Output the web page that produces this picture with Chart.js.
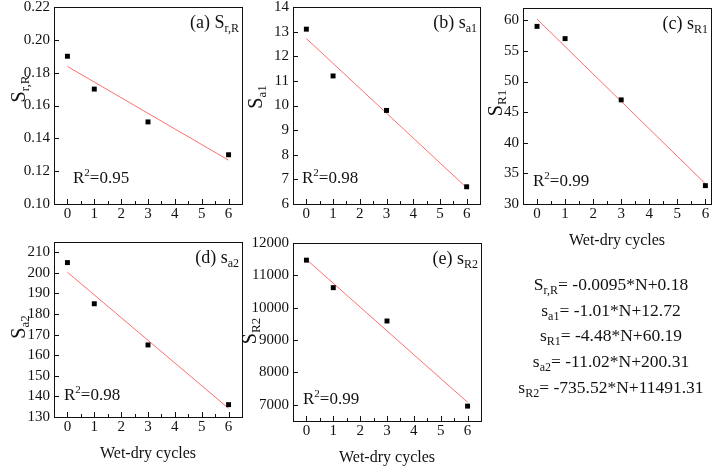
<!DOCTYPE html>
<html>
<head>
<meta charset="utf-8">
<script src="https://cdn.jsdelivr.net/npm/chart.js@4.4.0/dist/chart.umd.min.js"></script>
<style>
  html, body { margin: 0; padding: 0; background: #fff; overflow: hidden; }
  #wrap { position: relative; width: 714px; height: 467px; overflow: hidden; }
  canvas { position: absolute; left: -30px; top: -30px; }
  #eqs { position: absolute; left: 491px; top: 272px; width: 240px; text-align: center;
         font-family: "Liberation Serif", serif; font-size: 17.5px; line-height: 25.7px; color: #111; }
  #eqs sub { font-size: 12px; vertical-align: -4px; line-height: 0; }
</style>
</head>
<body>
<div id="wrap">
  <canvas id="cA" width="774" height="527"></canvas>
  <canvas id="cB" width="774" height="527"></canvas>
  <canvas id="cC" width="774" height="527"></canvas>
  <canvas id="cD" width="774" height="527"></canvas>
  <canvas id="cE" width="774" height="527"></canvas>
  <div id="eqs">
    <div>S<sub>r,R</sub>= -0.0095*N+0.18</div>
    <div>s<sub>a1</sub>= -1.01*N+12.72</div>
    <div>s<sub>R1</sub>= -4.48*N+60.19</div>
    <div>s<sub>a2</sub>= -11.02*N+200.31</div>
    <div>s<sub>R2</sub>= -735.52*N+11491.31</div>
  </div>
</div>
<script>
// wet-dry cycles and measured values
const cycles = [0, 1, 3, 6];
const fitX = [0, 6];

const srR = [0.19, 0.17, 0.15, 0.13];
const srRFit = [0.1838, 0.1267];
const sa1 = [13.1, 11.2, 9.8, 6.7];
const sa1Fit = [12.72, 6.66];
const sR1 = [59, 57, 47, 33];
const sR1Fit = [60.19, 33.31];
const sa2 = [205, 185, 165, 136];
const sa2Fit = [200.31, 134.19];
const sR2 = [11470, 10620, 9590, 6960];
const sR2Fit = [11491.31, 7078.19];

const xTicks = [0, 0.5, 1, 1.5, 2, 2.5, 3, 3.5, 4, 4.5, 5, 5.5, 6];
const yTicksA = [0.10, 0.12, 0.14, 0.16, 0.18, 0.20, 0.22];
const yTicksB = [6, 7, 8, 9, 10, 11, 12, 13, 14];
const yTicksC = [30, 35, 40, 45, 50, 55, 60];
const yTicksD = [130, 140, 150, 160, 170, 180, 190, 200, 210];
const yTicksE = [7000, 8000, 9000, 10000, 11000, 12000];

const r2 = ['0.95', '0.98', '0.99', '0.98', '0.99'];

const OFF = 30;
const YW = 50, XH = 24;
const SERIF = '"Liberation Serif", "Times New Roman", serif';
const INK = '#111';

function drawParts(ctx, x, y, parts, align) {
    let total = 0;
    parts.forEach(p => {
        ctx.font = p.size + 'px ' + SERIF;
        p.w = ctx.measureText(p.t).width;
        total += p.w;
    });
    let cx = align === 'right' ? x - total : align === 'center' ? x - total / 2 : x;
    ctx.textBaseline = 'alphabetic';
    ctx.textAlign = 'left';
    parts.forEach(p => {
        ctx.font = p.size + 'px ' + SERIF;
        ctx.fillText(p.t, cx, y + (p.dy || 0));
        cx += p.w;
    });
}

const panelPlugin = {
    id: 'panel',
    afterDraw(chart, args, o) {
        const ctx = chart.ctx;
        const a = chart.chartArea;
        const xs = chart.scales.x, ys = chart.scales.y;
        ctx.save();
        ctx.strokeStyle = INK;
        ctx.lineWidth = 1;
        ctx.strokeRect(Math.round(a.left) + 0.5, Math.round(a.top) + 0.5,
            Math.round(a.right - a.left), Math.round(a.bottom - a.top));
        ctx.beginPath();
        xs.ticks.forEach(t => {
            const px = Math.round(xs.getPixelForValue(t.value)) + 0.5;
            const len = Number.isInteger(t.value) ? 5 : 3;
            ctx.moveTo(px, a.bottom);
            ctx.lineTo(px, a.bottom - len);
        });
        ys.ticks.forEach(t => {
            const py = Math.round(ys.getPixelForValue(t.value)) + 0.5;
            ctx.moveTo(a.left, py);
            ctx.lineTo(a.left + 5, py);
        });
        ctx.stroke();

        ctx.fillStyle = INK;
        // panel label, top right
        drawParts(ctx, a.right - 3, a.top + 21, [
            { t: o.tag + ' ' + o.sym, size: 18 },
            { t: o.sub, size: 12, dy: 4 }
        ], 'right');
        // R squared
        drawParts(ctx, a.left + o.r2dx, a.bottom - o.r2dy, [
            { t: 'R', size: 17 },
            { t: '2', size: 11, dy: -7 },
            { t: '=' + o.r2, size: 17 }
        ], 'left');
        // y title, rotated
        ctx.save();
        ctx.translate(o.ytx + OFF, o.yty + OFF);
        ctx.rotate(-Math.PI / 2);
        drawParts(ctx, 0, 0, [
            { t: 'S', size: 20 },
            { t: o.sub, size: 13, dy: 4 }
        ], 'center');
        ctx.restore();
        // x title
        if (o.xTitle) {
            ctx.font = '16px ' + SERIF;
            ctx.textAlign = 'center';
            ctx.textBaseline = 'middle';
            ctx.fillText('Wet-dry cycles', (a.left + a.right) / 2, a.bottom + 37);
        }
        ctx.restore();
    }
};

function makePanel(id, p) {
    const tickFont = { family: SERIF, size: 15 };
    new Chart(document.getElementById(id), {
        type: 'scatter',
        data: {
            datasets: [{
                data: cycles.map((c, i) => ({ x: c, y: p.values[i] })),
                pointStyle: 'rect',
                pointRadius: 3.5,
                backgroundColor: '#000',
                borderWidth: 0
            }, {
                data: fitX.map((c, i) => ({ x: c, y: p.fit[i] })),
                showLine: true,
                pointRadius: 0,
                borderColor: 'rgb(255, 110, 110)',
                borderWidth: 1
            }]
        },
        options: {
            responsive: false,
            animation: false,
            devicePixelRatio: 1,
            layout: {
                padding: {
                    left: p.box[0] + OFF - YW,
                    top: p.box[1] + OFF,
                    right: 744 - p.box[2],
                    bottom: 497 - p.box[3] - XH
                }
            },
            scales: {
                x: {
                    type: 'linear',
                    min: -0.5,
                    max: p.xmax,
                    afterFit: s => { s.height = XH; },
                    afterBuildTicks: s => { s.ticks = xTicks.map(v => ({ value: v })); },
                    grid: { display: false, drawTicks: false },
                    border: { display: false },
                    ticks: {
                        autoSkip: false, maxRotation: 0, padding: 1,
                        font: tickFont, color: INK,
                        callback: v => Number.isInteger(v) ? String(v) : ''
                    }
                },
                y: {
                    min: p.ymin,
                    max: p.ymax,
                    afterFit: s => { s.width = YW; },
                    afterBuildTicks: s => { s.ticks = p.yTicks.map(v => ({ value: v })); },
                    grid: { display: false, drawTicks: false },
                    border: { display: false },
                    ticks: {
                        autoSkip: false, padding: 4,
                        font: tickFont, color: INK,
                        callback: v => p.fmt ? p.fmt(v) : String(v)
                    }
                }
            },
            plugins: {
                legend: { display: false },
                tooltip: { enabled: false },
                panel: p.text
            }
        },
        plugins: [panelPlugin]
    });
}

makePanel('cA', {
    values: srR, fit: srRFit, yTicks: yTicksA, ymin: 0.10, ymax: 0.22, xmax: 6.5,
    fmt: v => v.toFixed(2), box: [54, 7, 242, 204],
    text: { tag: '(a)', sym: 'S', sub: 'r,R', r2: r2[0], r2dx: 19, r2dy: 21, ytx: 25, yty: 89 }
});
makePanel('cB', {
    values: sa1, fit: sa1Fit, yTicks: yTicksB, ymin: 6, ymax: 14, xmax: 6.5,
    box: [293, 7, 480, 204],
    text: { tag: '(b)', sym: 's', sub: 'a1', r2: r2[1], r2dx: 9, r2dy: 21, ytx: 262, yty: 97 }
});
makePanel('cC', {
    values: sR1, fit: sR1Fit, yTicks: yTicksC, ymin: 30, ymax: 62, xmax: 6.2,
    box: [523, 8, 711, 204],
    text: { tag: '(c)', sym: 's', sub: 'R1', r2: r2[2], r2dx: 10, r2dy: 18, ytx: 502, yty: 103, xTitle: true }
});
makePanel('cD', {
    values: sa2, fit: sa2Fit, yTicks: yTicksD, ymin: 130, ymax: 215, xmax: 6.5,
    box: [54, 242, 242, 417],
    text: { tag: '(d)', sym: 's', sub: 'a2', r2: r2[3], r2dx: 10, r2dy: 17, ytx: 25, yty: 327, xTitle: true }
});
makePanel('cE', {
    values: sR2, fit: sR2Fit, yTicks: yTicksE, ymin: 6500, ymax: 12000, xmax: 6.5,
    box: [293, 243, 481, 421],
    text: { tag: '(e)', sym: 's', sub: 'R2', r2: r2[4], r2dx: 10, r2dy: 17, ytx: 256, yty: 331, xTitle: true }
});
</script>
</body>
</html>
